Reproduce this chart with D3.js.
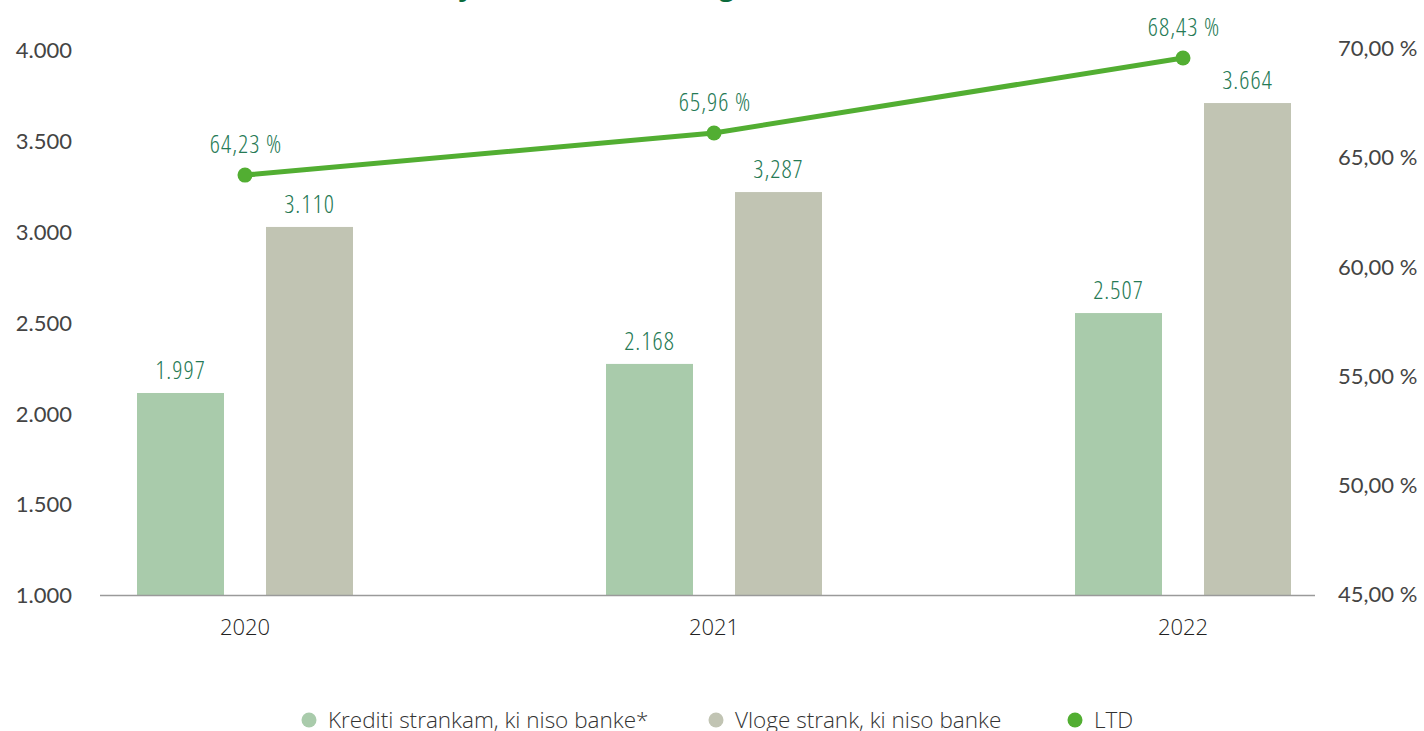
<!DOCTYPE html>
<html>
<head>
<meta charset="utf-8">
<script src="https://cdn.jsdelivr.net/npm/d3@7"></script>
<style>
  html, body { margin: 0; padding: 0; background: #fff; overflow: hidden; }
  svg { display: block; }
  .lbl { font-family: "Open Sans", sans-serif; font-weight: 300; }
  .cond { font-stretch: condensed; letter-spacing: 1px; }
  .tick text { font-family: Lato, "Open Sans", sans-serif; font-weight: 400; }
</style>
</head>
<body>
<svg id="chart" width="1424" height="731"></svg>
<script>
// ---- data ----
const years = ["2020", "2021", "2022"];
// bar heights as drawn in the reference (mio EUR)
const loans = [2112, 2272, 2552];
const deposits = [3026, 3218, 3708];
// LTD line as drawn (%)
const ltd = [64.18, 66.11, 69.54];
// printed labels
const loanLabels = ["1.997", "2.168", "2.507"];
const depositLabels = ["3.110", "3,287", "3.664"];
const ltdLabels = ["64,23 %", "65,96 %", "68,43 %"];
const leftTicks = [1000, 1500, 2000, 2500, 3000, 3500, 4000];
const rightTicks = [45, 50, 55, 60, 65, 70];
const seriesNames = ["Krediti strankam, ki niso banke*", "Vloge strank, ki niso banke", "LTD"];
const titleText = "Razmerje med krediti in vlogami strank, ki niso banke";

const colLoan = "#a9cbab", colDep = "#c1c4b3", colLine = "#52ae32", colLbl = "#267a55", colTick = "#444";

const svg = d3.select("#chart");
const loc = d3.formatLocale({decimal: ",", thousands: ".", grouping: [3], currency: ["", "€"]});
const fmtL = loc.format(",d");
const fmtR = v => loc.format(",.2f")(v) + " %";

const x = d3.scaleBand().domain(years).range([10.5, 1417.5]).paddingInner(0).paddingOuter(0);
const sub = d3.scaleBand().domain(["loan", "dep"]).range([-108, 108]).paddingInner(42 / 129).paddingOuter(0);
const yL = d3.scaleLinear().domain([1000, 4000]).range([595, 50]);
const yR = d3.scaleLinear().domain([45, 70]).range([594, 48]);
const cx = d => x(d) + x.bandwidth() / 2;

// title (cut off at the top)
svg.append("text").attr("x", 712).attr("y", -4).attr("text-anchor", "middle")
  .attr("fill", "#0b6b3c").style("font-family", "Open Sans").style("font-weight", 700)
  .style("font-size", "26px").text(titleText);

// axes
const gl = svg.append("g").attr("transform", "translate(72,0)")
  .call(d3.axisLeft(yL).tickValues(leftTicks).tickFormat(fmtL).tickSize(0).tickPadding(0));
gl.select(".domain").remove();
gl.selectAll("text").attr("fill", colTick).style("font-size", "22px").attr("dy", "0.35em");

const gr = svg.append("g").attr("transform", "translate(1338,0)")
  .call(d3.axisRight(yR).tickValues(rightTicks).tickFormat(fmtR).tickSize(0).tickPadding(0));
gr.select(".domain").remove();
gr.selectAll("text").attr("fill", colTick).style("font-size", "22px").attr("dy", "0.35em");

// bars
const rows = years.map((y, i) => ({y, loan: loans[i], dep: deposits[i], i}));
const bars = svg.append("g");
bars.selectAll("rect.loan").data(rows).join("rect").attr("class", "loan")
  .attr("x", d => cx(d.y) + sub("loan")).attr("width", sub.bandwidth())
  .attr("y", d => yL(d.loan)).attr("height", d => yL(1000) - yL(d.loan)).attr("fill", colLoan);
bars.selectAll("rect.dep").data(rows).join("rect").attr("class", "dep")
  .attr("x", d => cx(d.y) + sub("dep")).attr("width", sub.bandwidth())
  .attr("y", d => yL(d.dep)).attr("height", d => yL(1000) - yL(d.dep)).attr("fill", colDep);

// baseline
svg.append("line").attr("x1", 100).attr("x2", 1315).attr("y1", yL(1000) + 0.5).attr("y2", yL(1000) + 0.5)
  .attr("stroke", "#9a9a9a").attr("stroke-width", 1.5);

// bar labels
const lblG = svg.append("g").attr("class", "lbl cond").attr("fill", colLbl).style("font-size", "25px").attr("text-anchor", "middle");
lblG.selectAll("text.ll").data(rows).join("text").attr("class", "ll")
  .attr("x", d => cx(d.y) + sub("loan") + sub.bandwidth() / 2).attr("y", d => yL(d.loan) - 14)
  .text(d => loanLabels[d.i]);
lblG.selectAll("text.dl").data(rows).join("text").attr("class", "dl")
  .attr("x", d => cx(d.y) + sub("dep") + sub.bandwidth() / 2).attr("y", d => yL(d.dep) - 14)
  .text(d => depositLabels[d.i]);

// line
const line = d3.line().x((d, i) => cx(years[i])).y(d => yR(d));
svg.append("path").datum(ltd).attr("d", line).attr("fill", "none").attr("stroke", colLine).attr("stroke-width", 5);
svg.append("g").selectAll("circle").data(ltd).join("circle")
  .attr("cx", (d, i) => cx(years[i])).attr("cy", d => yR(d)).attr("r", 7.5).attr("fill", colLine);
lblG.selectAll("text.pl").data(ltd).join("text").attr("class", "pl")
  .attr("x", (d, i) => cx(years[i]) + 1).attr("y", d => yR(d) - 22)
  .text((d, i) => ltdLabels[i]);

// year labels
svg.append("g").attr("class", "lbl").selectAll("text").data(years).join("text")
  .attr("x", d => cx(d)).attr("y", 635).attr("text-anchor", "middle").attr("fill", "#222")
  .style("font-size", "22px").text(d => d);

// legend
const legX = [309, 716, 1075];
const legCols = [colLoan, colDep, colLine];
const leg = svg.append("g").selectAll("g").data(seriesNames).join("g")
  .attr("transform", (d, i) => `translate(${legX[i]},720)`);
leg.append("circle").attr("r", 7.5).attr("fill", (d, i) => legCols[i]);
leg.append("text").attr("class", "lbl").attr("x", 19).attr("y", 8).attr("fill", "#333")
  .style("font-size", "22.5px").text(d => d);
</script>
</body>
</html>
